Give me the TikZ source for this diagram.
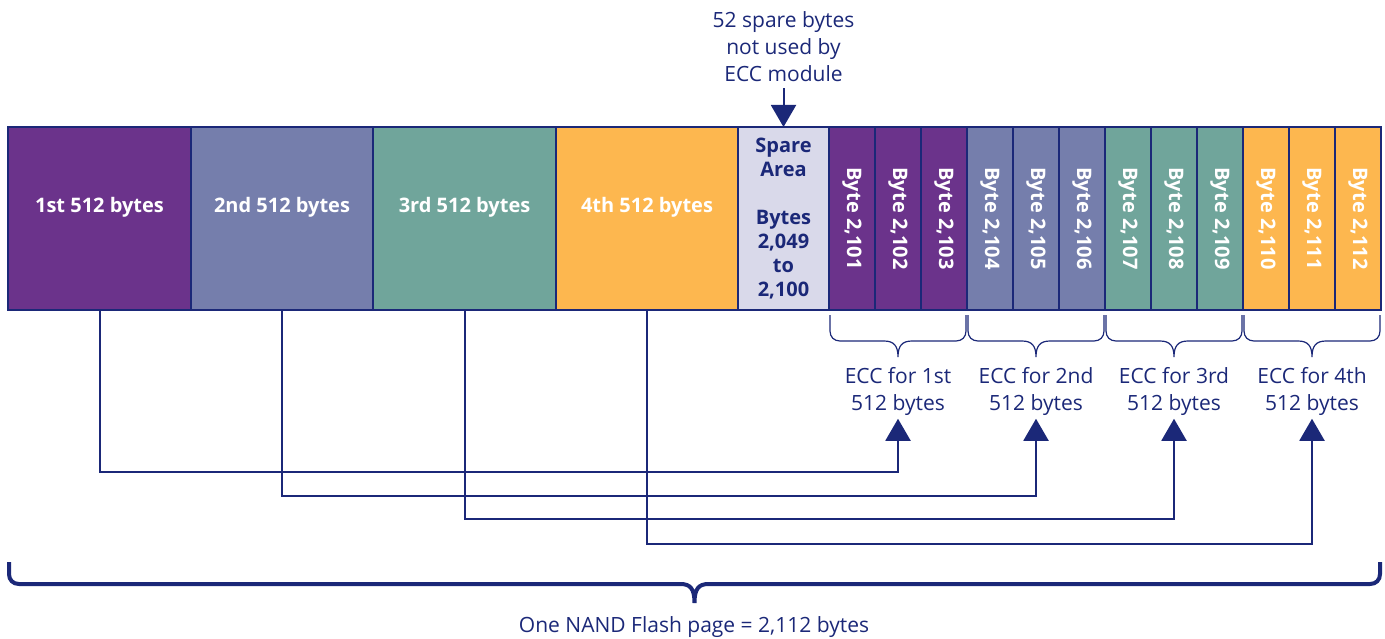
\documentclass[tikz,border=0pt]{standalone}
\usepackage{fontspec}
\setmainfont{Open Sans}
\usetikzlibrary{arrows.meta,calc}

\definecolor{navy}{HTML}{1B2878}
\definecolor{segA}{HTML}{6B338B}
\definecolor{segB}{HTML}{757EAC}
\definecolor{segC}{HTML}{70A59B}
\definecolor{segD}{HTML}{FDB74F}
\definecolor{spareFill}{HTML}{D9D9EA}

% curly brace opening downwards: [style]{x left}{x right}{y top}{y bar}{y tip}
\newcommand{\curlybrace}[6][]{%
  \draw[#1] (#2,#4) -- (#2,#5-10)
    .. controls (#2,#5-4) and (#2+4,#5) .. (#2+10,#5)
    -- ({(#2+#3)/2-14},#5)
    .. controls ({(#2+#3)/2-4},#5) and ({(#2+#3)/2},#5+5) .. ({(#2+#3)/2},#6)
    .. controls ({(#2+#3)/2},#5+5) and ({(#2+#3)/2+4},#5) .. ({(#2+#3)/2+14},#5)
    -- (#3-10,#5)
    .. controls (#3-4,#5) and (#3,#5-4) .. (#3,#5-10)
    -- (#3,#4);}

\begin{document}
\begin{tikzpicture}[x=1pt,y=-1pt,
  cell/.style={draw=navy,line width=1.5pt,minimum height=183pt,inner sep=0pt,outer sep=0pt,anchor=north west},
  seglabel/.style={text=white,font=\bfseries\fontsize{20}{24}\selectfont},
  bytelabel/.style={text=white,rotate=-90,font=\bfseries\fontsize{20}{24}\selectfont},
  note/.style={text=navy,align=center,inner sep=3pt,font=\fontsize{21}{27}\selectfont},
  conn/.style={draw=navy,line width=2pt,-{Triangle[width=25pt,length=22pt]}},
  thinbrace/.style={draw=navy,line width=1.2pt},
  pagebrace/.style={draw=navy,line width=4pt}]
\useasboundingbox (0,0) rectangle (1385,639);

% data areas of the page
\node[cell,fill=segA,minimum width=183pt] (s1) at (8,127) {};
\node[cell,fill=segB,minimum width=182pt] (s2) at (191,127) {};
\node[cell,fill=segC,minimum width=183pt] (s3) at (373,127) {};
\node[cell,fill=segD,minimum width=182pt] (s4) at (556,127) {};
\node[seglabel] at ($(s1.center)+(0,-11.5)$) {1st 512 bytes};
\node[seglabel] at ($(s2.center)+(0,-11.5)$) {2nd 512 bytes};
\node[seglabel] at ($(s3.center)+(0,-11.5)$) {3rd 512 bytes};
\node[seglabel] at ($(s4.center)+(0,-11.5)$) {4th 512 bytes};

% spare area
\node[cell,fill=spareFill,minimum width=91pt,text=navy,align=center,
      font=\bfseries\fontsize{20}{24}\selectfont] (spare) at (738,127)
      {Spare\\Area\\[24pt]Bytes\\2,049\\to\\2,100};

% ECC bytes
\foreach \i/\col in {1/segA,2/segA,3/segA,4/segB,5/segB,6/segB,
                     7/segC,8/segC,9/segC,10/segD,11/segD,12/segD}{
  \pgfmathtruncatemacro\num{100+\i}
  \node[cell,fill=\col,minimum width=46pt] (b\i) at ({829+46*(\i-1)},127) {};
  \node[bytelabel] at (b\i.center) {Byte 2,\num};
}

% note on the spare bytes
\node[note] (spnote) at (783.5,47) {52 spare bytes\\not used by\\ECC module};
\draw[conn,shorten <=3pt] (spnote.south) -- (spare.north);

% braces grouping the ECC bytes
\curlybrace[thinbrace]{830}{966}{315}{341}{357}
\curlybrace[thinbrace]{968}{1104}{315}{341}{357}
\curlybrace[thinbrace]{1106}{1242}{315}{341}{357}
\curlybrace[thinbrace]{1244}{1380}{315}{341}{357}

\node[note] (ecc1) at (898,391.5) {ECC for 1st\\512 bytes};
\node[note] (ecc2) at (1036,391.5) {ECC for 2nd\\512 bytes};
\node[note] (ecc3) at (1174,391.5) {ECC for 3rd\\512 bytes};
\node[note] (ecc4) at (1312,391.5) {ECC for 4th\\512 bytes};

% each data area to its ECC bytes
\draw[conn] (s1.south) |- ($(ecc1.south)+(0,53)$) -- (ecc1.south);
\draw[conn] (s2.south) |- ($(ecc2.south)+(0,77)$) -- (ecc2.south);
\draw[conn] (s3.south) |- ($(ecc3.south)+(0,100)$) -- (ecc3.south);
\draw[conn] (s4.south) |- ($(ecc4.south)+(0,125)$) -- (ecc4.south);

% whole page
\curlybrace[pagebrace]{9}{1380}{562}{584}{603}
\node[note] (page) at (694,627) {One NAND Flash page = 2,112 bytes};
\end{tikzpicture}
\end{document}
